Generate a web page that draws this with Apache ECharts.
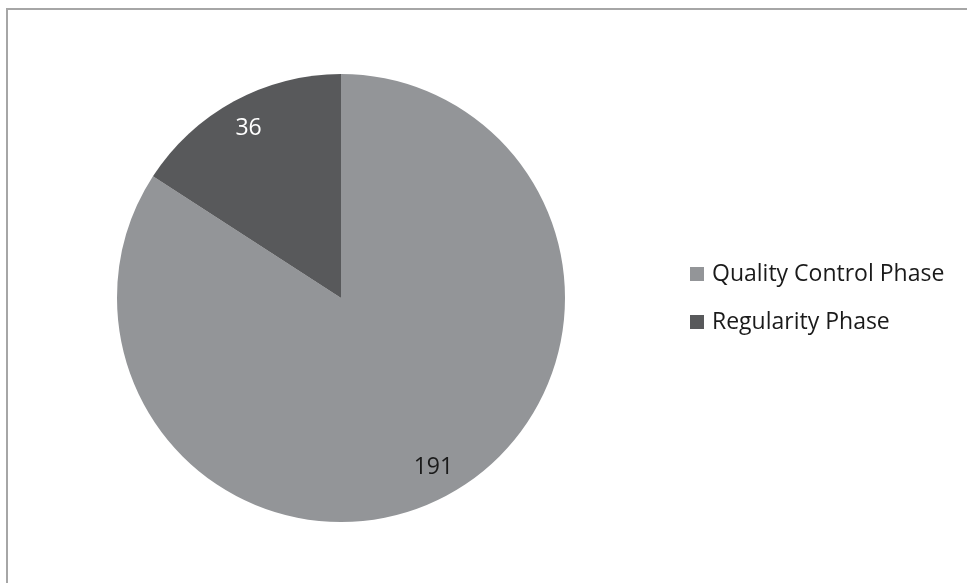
<!DOCTYPE html>
<html>
<head>
<meta charset="utf-8">
<script src="https://cdn.jsdelivr.net/npm/echarts@6/dist/echarts.min.js"></script>
<style>html,body{margin:0;padding:0;background:#fff;}#c{width:967px;height:583px;}</style>
</head>
<body>
<div id="c"></div>
<script>
const categories = ['Quality Control Phase', 'Regularity Phase'];
const values = [191, 36];
const colors = ['#939598', '#58595b'];
const labelColors = ['#1a1a1a', '#ffffff'];

const FONT = 'Open Sans';
const R = 224;
const center = [341, 298];
const data = categories.map((c, i) => ({ name: c, value: values[i], itemStyle: { color: colors[i] } }));

const chart = echarts.init(document.getElementById('c'), null, { renderer: 'canvas' });
chart.setOption({
  animation: false,
  backgroundColor: '#ffffff',
  graphic: [{
    type: 'rect', shape: { x: 7, y: 9, width: 1000, height: 1000 },
    style: { fill: 'none', stroke: '#a6a6a6', lineWidth: 2 }, silent: true
  }],
  legend: {
    orient: 'vertical', left: 690, top: 262, padding: 0,
    icon: 'rect', itemWidth: 14, itemHeight: 14, itemGap: 24,
    textStyle: { fontFamily: FONT, fontSize: 23, color: '#1a1a1a', lineHeight: 24, padding: [0, 0, 0, 3] },
    data: categories
  },
  series: [
    {
      type: 'pie', center: center, radius: R, startAngle: 90, clockwise: true,
      data: data, label: { show: false }, labelLine: { show: false },
      itemStyle: { borderWidth: 0 }
    },
    {
      type: 'pie', center: center, radius: [R * 0.70, R], startAngle: 90, clockwise: true,
      silent: true, legendHoverLink: false, z: 5,
      data: categories.map((c, i) => ({
        name: c, value: values[i], itemStyle: { color: 'rgba(0,0,0,0)' },
        label: { color: labelColors[i] }
      })),
      label: { show: true, position: 'inside', fontFamily: FONT, fontSize: 23, formatter: '{c}' },
      labelLine: { show: false }, emphasis: { disabled: true }, tooltip: { show: false }
    }
  ]
});
</script>
</body>
</html>
